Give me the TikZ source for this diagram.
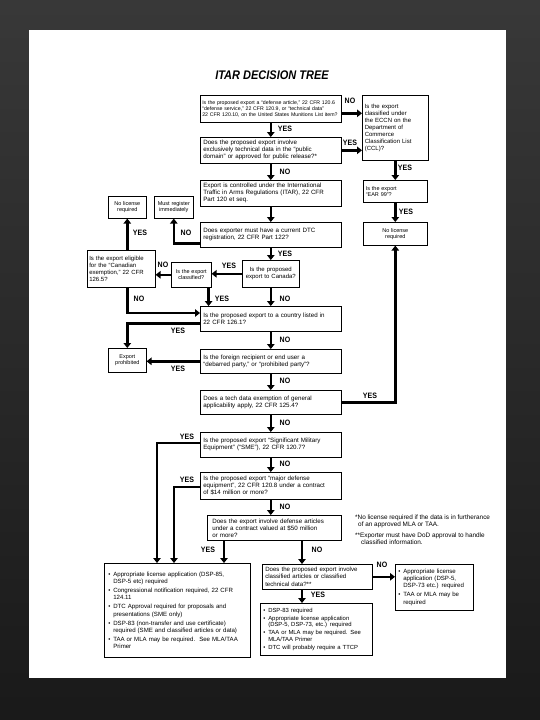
\documentclass[tikz,border=0pt]{standalone}
\usepackage{fontspec}
\setmainfont{Liberation Sans}
\newfontfamily\titlef{Liberation Sans}[FakeStretch=0.88]
\newfontfamily\lblf{Liberation Sans}[FakeStretch=0.9]
\usetikzlibrary{arrows.meta,calc}
\newcommand\qf{\fontsize{6.2}{7}\selectfont}
\newcommand\smf{\fontsize{5.5}{6.3}\selectfont}
\newcommand\af{\fontsize{5.2}{6.2}\selectfont}
\newcommand\mf{\fontsize{6}{7}\selectfont}
\newcommand\lf{\fontsize{6.1}{7.1}\selectfont}
\newcommand\nf{\fontsize{6.4}{7}\selectfont}
\newcommand\bl{\makebox[5pt][l]{•}}
\newcommand\ind{\hspace*{5pt}}
\begin{document}
\begin{tikzpicture}[x=1pt,y=-1pt,
  q/.style={draw, line width=0.6pt, font=\qf, align=left, inner xsep=3pt, inner ysep=1.5pt, anchor=north west},
  qc/.style={q, align=center, font=\smf},
  arr/.style={line width=2.6pt, -{Triangle[length=5pt,width=7.5pt]}},
  lbl/.style={font={\lblf\bfseries\fontsize{7.8}{8}\selectfont}, inner sep=0pt}]
\useasboundingbox (0,0) rectangle (540,720);
\shade[top color=black!78,bottom color=black!90] (0,0) rectangle (540,720);
\fill[white] (29,30) rectangle (506,678);

\node[font={\titlef\bfseries\itshape\fontsize{12.5}{12.5}\selectfont}] (title) at (272,75) {ITAR DECISION TREE};

% main column
\node[q, font=\af, inner xsep=2pt, text width=137pt, minimum width=141pt, minimum height=27pt] (a) at (200,95)
 {Is the proposed export a “defense article,” 22 CFR 120.6\\“defense service,” 22 CFR 120.9, or “technical data”\\22 CFR 120.10, on the United States Munitions List item?};
\node[q, text width=135pt, minimum width=141pt, minimum height=26pt] (b) at (200,137)
 {Does the proposed export involve\\exclusively technical data in the “public\\domain” or approved for public release?*};
\node[q, text width=135pt, minimum width=141pt, minimum height=26pt] (c) at (200,180)
 {Export is controlled under the International\\Traffic in Arms Regulations (ITAR), 22 CFR\\Part 120 et seq.};
\node[q, text width=135pt, minimum width=141pt, minimum height=25pt] (d) at (200,222)
 {Does exporter must have a current DTC\\registration, 22 CFR Part 122?};
\node[qc, font=\mf, inner xsep=2pt, text width=53pt, minimum width=57pt, minimum height=27pt] (canada) at (242,260)
 {Is the proposed\\export to Canada?};
\node[qc, inner xsep=1.5pt, text width=37pt, minimum width=40pt, minimum height=25pt] (clas) at (171,262)
 {Is the export\\classified?};
\node[q, font=\mf, inner xsep=2pt, text width=64pt, minimum width=68pt, minimum height=37pt] (canex) at (87,250)
 {Is the export eligible\\for the “Canadian\\exemption,” 22 CFR\\126.5?};
\node[qc, inner xsep=1.5pt, text width=35pt, minimum width=38pt, minimum height=22pt] (lnl) at (108,196)
 {No license\\required};
\node[qc, inner xsep=1.5pt, text width=36pt, minimum width=39pt, minimum height=22pt] (must) at (154,196)
 {Must register\\immediately};
\node[q, text width=135pt, minimum width=141pt, minimum height=25pt] (country) at (200,306)
 {Is the proposed export to a country listed in\\22 CFR 126.1?};
\node[qc, inner xsep=1.5pt, text width=35pt, minimum width=38pt, minimum height=24pt] (prohib) at (108,348)
 {Export\\prohibited};
\node[q, text width=135pt, minimum width=141pt, minimum height=24pt] (debar) at (200,349)
 {Is the foreign recipient or end user a\\“debarred party,” or “prohibited party”?};
\node[q, text width=135pt, minimum width=141pt, minimum height=24pt] (tech) at (200,390)
 {Does a tech data exemption of general\\applicability apply, 22 CFR 125.4?};
\node[q, text width=135pt, minimum width=141pt, minimum height=25pt] (sme) at (200,432)
 {Is the proposed export “Significant Military\\Equipment” (“SME”), 22 CFR 120.7?};
\node[q, text width=135pt, minimum width=141pt, minimum height=27pt] (mde) at (200,472)
 {Is the proposed export “major defense\\equipment”, 22 CFR 120.8 under a contract\\of \$14 million or more?};
\node[q, inner xsep=5pt, text width=124pt, minimum width=134pt, minimum height=25pt] (fifty) at (207,515)
 {Does the export involve defense articles\\under a contract valued at \$50 million\\or more?};

% right column
\node[q, font=\mf, inner xsep=2.5pt, text width=61pt, minimum width=66pt, minimum height=65pt] (eccn) at (362,95)
 {Is the export\\classified under\\the ECCN on the\\Department of\\Commerce\\Classification List\\(CCL)?};
\node[q, font=\smf, inner xsep=2.5pt, text width=59pt, minimum width=64pt, minimum height=22pt] (car) at (363,180)
 {Is the export\\“EAR 99”?};
\node[qc, inner xsep=2.5pt, text width=59pt, minimum width=64pt, minimum height=23pt] (rnl) at (363,222)
 {No license\\required};

% bottom boxes
\node[q, font=\lf, inner xsep=4pt, text width=138pt, minimum width=146pt, minimum height=94pt] (bigL) at (104,563)
 {\bl Appropriate license application (DSP-85,\\\ind DSP-5 etc) required\\[2pt]
  \bl Congressional notification required, 22 CFR\\\ind 124.11\\[2pt]
  \bl DTC Approval required for proposals and\\\ind presentations (SME only)\\[2pt]
  \bl DSP-83 (non-transfer and use certificate)\\\ind required (SME and classified articles or data)\\[2pt]
  \bl TAA or MLA may be required.\ \ See MLA/TAA\\\ind Primer};
\node[q, font=\lf, inner xsep=3pt, text width=104pt, minimum width=110pt, minimum height=25pt] (clart) at (262,564)
 {Does the proposed export involve\\classified articles or classified\\technical data?**};
\node[q, font=\lf, inner xsep=3pt, text width=72pt, minimum width=78pt, minimum height=46pt] (rbox) at (395,564)
 {\bl Appropriate license\\\ind application (DSP-5,\\\ind DSP-73 etc.) required\\[2pt]
  \bl TAA or MLA may be\\\ind required};
\node[q, font={\fontsize{5.9}{6.8}\selectfont}, inner xsep=3pt, text width=106pt, minimum width=112pt, minimum height=52pt] (lower) at (260,603)
 {\bl DSP-83 required\\[1pt]
  \bl Appropriate license application\\\ind (DSP-5, DSP-73, etc.) required\\[1pt]
  \bl TAA or MLA may be required. See\\\ind MLA/TAA Primer\\[1pt]
  \bl DTC will probably require a TTCP};

% footnotes
\node[font=\nf, align=left, anchor=north west, inner sep=0pt] (notes) at (355,515)
 {*No license required if the data is in furtherance\\\hspace*{3pt}of an approved MLA or TAA.\\[4pt]
  **Exporter must have DoD approval to handle\\\hspace*{6pt}classified information.};

% helper coordinates
\coordinate (a1) at ($(a.east)+(0,4.5)$);
\coordinate (d1) at ($(d.south west)+(0,-4)$);
\coordinate (cl1) at ($(clas.south east)+(-3,0)$);
\coordinate (c1) at ($(country.north west)+(0,7)$);
\coordinate (co1) at ($(country.south west)+(0,-8)$);
\coordinate (s1) at ($(sme.north west)+(0,11)$);
\coordinate (bl1) at ($(bigL.north west)+(53,0)$);
\coordinate (m1) at ($(mde.north west)+(0,15)$);
\coordinate (bl2) at ($(bigL.north west)+(70,0)$);
\coordinate (f1) at ($(fifty.south west)+(17,0)$);
\coordinate (f2) at ($(fifty.south west)+(95,0)$);

% connectors
\draw[arr] (a1) -- (a1 -| eccn.west);
\draw[arr] (a.south) -- (b.north);
\draw[arr] (b.east) -- (b.east -| eccn.west);
\draw[arr] (b.south) -- (c.north);
\draw[arr] (eccn.south) -- (car.north);
\draw[arr] (car.south) -- (rnl.north);
\draw[arr] (c.south) -- (d.north);
\draw[arr] (d1) -| (must.south);
\draw[arr] (d.south) -- (d.south |- canada.north);
\draw[arr] (canada.west) -- (canada.west -| clas.east);
\draw[arr] (clas.west) -- (clas.west -| canex.east);
\draw[arr] (lnl.south |- canex.north) -- (lnl.south);
\draw[arr] (lnl.south |- canex.south) |- (c1);
\draw[arr] (cl1) -- (cl1 |- country.north);
\draw[arr] (canada.south) -- (canada.south |- country.north);
\draw[arr] (co1) -| (prohib.north);
\draw[arr] (country.south) -- (debar.north);
\draw[arr] (debar.west) -- (debar.west -| prohib.east);
\draw[arr] (debar.south) -- (tech.north);
\draw[arr] (tech.east) -| (rnl.south);
\draw[arr] (tech.south) -- (sme.north);
\draw[arr] (s1) -| (bl1);
\draw[arr] (sme.south) -- (mde.north);
\draw[arr] (m1) -| (bl2);
\draw[arr] (mde.south) -- (mde.south |- fifty.north);
\draw[arr] (f1) -- (f1 |- bigL.north);
\draw[arr] (f2) -- (f2 |- clart.north);
\draw[arr] (clart.east) -- (clart.east -| rbox.west);
\draw[arr] (f2 |- clart.south) -- (f2 |- lower.north);

% labels
\node[lbl] (l1) at (350,101) {NO};
\node[lbl] (l2) at (285,129) {YES};
\node[lbl] (l3) at (350,143) {YES};
\node[lbl] (l4) at (285,172) {NO};
\node[lbl] (l5) at (405,168) {YES};
\node[lbl] (l6) at (406,212) {YES};
\node[lbl] (l7) at (140,233) {YES};
\node[lbl] (l8) at (186,233) {NO};
\node[lbl] (l9) at (285,254) {YES};
\node[lbl] (l10) at (163,265) {NO};
\node[lbl] (l11) at (229,266) {YES};
\node[lbl] (l12) at (139,299) {NO};
\node[lbl] (l13) at (222,299) {YES};
\node[lbl] (l14) at (285,299) {NO};
\node[lbl] (l15) at (178,331) {YES};
\node[lbl] (l16) at (285,340) {NO};
\node[lbl] (l17) at (178,369) {YES};
\node[lbl] (l18) at (285,381) {NO};
\node[lbl] (l19) at (370,396) {YES};
\node[lbl] (l20) at (285,423) {NO};
\node[lbl] (l21) at (187,437) {YES};
\node[lbl] (l22) at (285,464) {NO};
\node[lbl] (l23) at (187,480) {YES};
\node[lbl] (l24) at (285,507) {NO};
\node[lbl] (l25) at (208,550) {YES};
\node[lbl] (l26) at (317,550) {NO};
\node[lbl] (l27) at (382,565) {NO};
\node[lbl] (l28) at (318,595) {YES};
\end{tikzpicture}
\end{document}
